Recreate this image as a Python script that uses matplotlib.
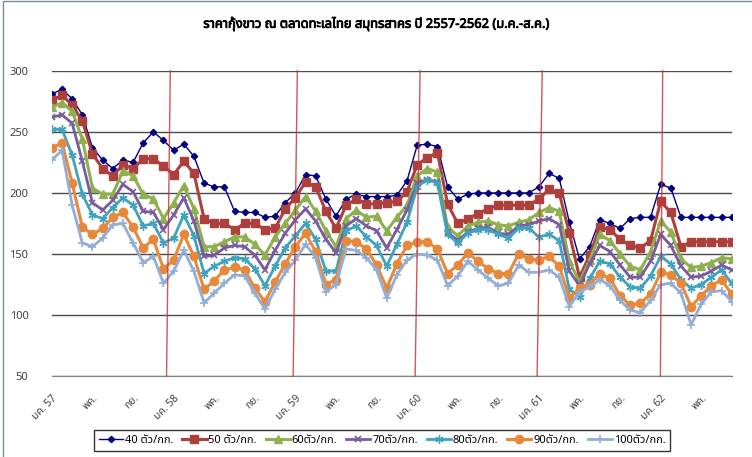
import matplotlib
matplotlib.use("Agg")
import matplotlib.pyplot as plt
import matplotlib.patheffects as pe
from matplotlib import font_manager
from matplotlib.ft2font import FT2Font
from matplotlib.patches import Rectangle


def find_thai_font():
    """Return the name of an installed font that has Thai glyphs."""
    found = []
    for f in font_manager.fontManager.ttflist:
        try:
            if 0x0E01 in FT2Font(f.fname).get_charmap():
                found.append(f.name)
        except Exception:
            pass
    for pref in ("Tahoma", "Noto Sans Thai", "Leelawadee UI", "Garuda", "Loma"):
        if pref in found:
            return pref
    return found[0] if found else None


thai = find_thai_font()
families = [thai, "DejaVu Sans"] if thai else ["DejaVu Sans"]
plt.rcParams["font.family"] = families

# monthly prices, Jan 2557 .. Aug 2562 (68 months)
price_40 = [281, 285, 277, 264, 237, 227, 220, 227, 225, 241, 250, 243, 235, 240, 230, 208,
            205, 205, 185, 184, 184, 180, 181, 192, 200, 215, 214, 195, 181, 195, 199, 197,
            197, 197, 198, 210, 239, 240, 238, 205, 195, 199, 200, 200, 200, 200, 200, 200,
            205, 216, 212, 176, 146, 156, 178, 175, 171, 179, 180, 180, 207, 204, 180, 180,
            180, 180, 180, 180]
price_50 = [276, 280, 272, 259, 232, 220, 214, 223, 220, 228, 228, 222, 215, 226, 216, 179,
            175, 175, 170, 175, 175, 170, 171, 187, 196, 209, 205, 185, 171, 190, 195, 191,
            191, 192, 193, 201, 223, 229, 233, 191, 175, 179, 183, 187, 190, 190, 190, 190,
            195, 203, 200, 167, 131, 149, 172, 170, 162, 157, 155, 161, 193, 184, 156, 160,
            160, 160, 160, 160]
price_60 = [270, 274, 267, 244, 204, 199, 199, 218, 214, 199, 195, 179, 192, 206, 187, 156,
            156, 160, 164, 164, 158, 149, 164, 175, 186, 197, 185, 169, 156, 179, 186, 180,
            181, 169, 180, 190, 214, 220, 217, 172, 165, 173, 176, 177, 174, 173, 176, 178,
            184, 188, 185, 144, 127, 145, 166, 161, 150, 140, 137, 152, 177, 168, 146, 139,
            140, 143, 147, 146]
price_70 = [262, 264, 257, 226, 192, 186, 194, 207, 201, 185, 184, 170, 182, 196, 177, 148,
            149, 155, 157, 156, 149, 137, 153, 167, 178, 187, 177, 162, 151, 173, 179, 173,
            169, 155, 170, 186, 208, 211, 209, 168, 161, 168, 171, 172, 167, 166, 173, 174,
            177, 179, 174, 136, 124, 142, 157, 152, 141, 131, 131, 144, 166, 157, 140, 131,
            132, 136, 141, 137]
price_80 = [252, 252, 231, 199, 182, 179, 188, 196, 190, 173, 175, 159, 163, 182, 165, 134,
            140, 144, 147, 146, 138, 124, 140, 155, 165, 175, 162, 136, 136, 169, 173, 164,
            157, 140, 158, 176, 205, 211, 208, 166, 159, 167, 170, 170, 166, 163, 171, 171,
            164, 166, 161, 121, 115, 130, 144, 142, 131, 123, 122, 132, 148, 142, 129, 122,
            125, 131, 137, 126]
price_90 = [237, 241, 208, 172, 166, 171, 180, 184, 172, 155, 162, 138, 145, 166, 148, 121,
            128, 137, 139, 137, 122, 111, 127, 142, 156, 167, 152, 125, 129, 161, 160, 154,
            141, 122, 142, 157, 160, 160, 154, 134, 141, 151, 144, 138, 134, 134, 150, 146,
            145, 148, 140, 114, 122, 125, 134, 130, 116, 108, 110, 117, 135, 133, 126, 107,
            116, 124, 129, 117]
price_100 = [227, 235, 190, 159, 156, 163, 174, 175, 159, 143, 148, 126, 136, 153, 136, 110,
             118, 126, 133, 132, 118, 105, 121, 135, 145, 158, 147, 119, 125, 154, 153, 147,
             137, 114, 133, 145, 150, 149, 145, 124, 132, 144, 137, 130, 124, 126, 141, 135,
             135, 137, 131, 107, 119, 123, 129, 124, 112, 104, 102, 112, 125, 126, 118, 92,
             109, 119, 120, 111]

series_labels = ["40 ตัว/กก.", "50 ตัว/กก.", "60ตัว/กก.", "70ตัว/กก.",
                 "80ตัว/กก.", "90ตัว/กก.", "100ตัว/กก."]
tick_labels = ["มค. 57", "พค.", "กย.", "มค. 58", "พค.", "กย.", "มค. 59", "พค.", "กย.",
               "มค. 60", "พค.", "กย.", "มค. 61", "พค.", "กย.", "มค. 62", "พค."]
y_ticks = [50, 100, 150, 200, 250, 300]

# hand drawn red year dividers (month index at top, at bottom)
dividers = [(11.67, 11.30), (24.19, 23.78), (36.29, 35.80), (48.33, 47.82), (60.20, 59.97)]

styles = [
    dict(color="#000080", marker="D", ms=3.2, lw=1.0),
    dict(color="#AD403D", marker="s", ms=5.5, lw=2.2),
    dict(color="#8FB04E", marker="^", ms=6, lw=2.2),
    dict(color="#7A5C9E", marker="x", ms=5, lw=2.0, mew=1.2),
    dict(color="#3FA3BD", marker=(6, 2, 0), ms=6, lw=2.0, mew=1.0),
    dict(color="#E8883A", marker="o", ms=6, lw=2.2),
    dict(color="#93AED6", marker="+", ms=6, lw=2.0, mew=1.2),
]

fig = plt.figure(figsize=(7.52, 4.57), dpi=100)
fig.patches.append(Rectangle((0.004, -0.01), 1.0, 1.007, transform=fig.transFigure,
                             fill=False, edgecolor="#7f8a99", lw=1.0))
ax = fig.add_axes([0.069, 0.177, 0.904, 0.668])

all_series = [price_40, price_50, price_60, price_70, price_80, price_90, price_100]
months = list(range(len(price_40)))
for k, (vals, lab, st) in enumerate(zip(all_series, series_labels, styles)):
    ax.plot(months, vals, label=lab, zorder=3 + k, **st)

for top, bottom in dividers:
    ax.plot([top, bottom], [300, 50], color="#C8383A", lw=1.0, alpha=0.85, zorder=20,
            clip_on=False)

ax.set_xlim(0, len(months) - 1)
ax.set_ylim(50, 300)
ax.set_yticks(y_ticks)
ax.set_yticklabels([str(v) for v in y_ticks])
ax.yaxis.grid(True, color="#4a4a4a", lw=1.0)
ax.set_axisbelow(True)
for side in ("top", "right", "left"):
    ax.spines[side].set_visible(False)
ax.spines["bottom"].set_color("#808080")
ax.tick_params(axis="y", length=0, pad=17, labelsize=8, labelcolor="#404040")

ax.set_xticks(months[::4])
ax.set_xticklabels(tick_labels, rotation=45, ha="right", va="top",
                   rotation_mode="anchor", fontsize=7.5, color="#404040")
ax.tick_params(axis="x", length=0, pad=12)

# the Thai font has no bold face, so thicken the title with a thin stroke
fig.text(0.5, 0.948, "ราคากุ้งขาว ณ ตลาดทะเลไทย สมุทรสาคร ปี 2557-2562 (ม.ค.-ส.ค.)",
         ha="center", va="center", fontsize=9.3, fontweight="bold",
         path_effects=[pe.withStroke(linewidth=0.6, foreground="black")])

leg = fig.legend(loc="center", bbox_to_anchor=(0.508, 0.036), ncol=7, fontsize=8,
                 frameon=True, fancybox=False, edgecolor="black", handlelength=2.2,
                 handletextpad=0.15, columnspacing=0.8, borderpad=0.45)
leg.get_frame().set_linewidth(1.0)

fig.savefig("out.png", dpi=100)
